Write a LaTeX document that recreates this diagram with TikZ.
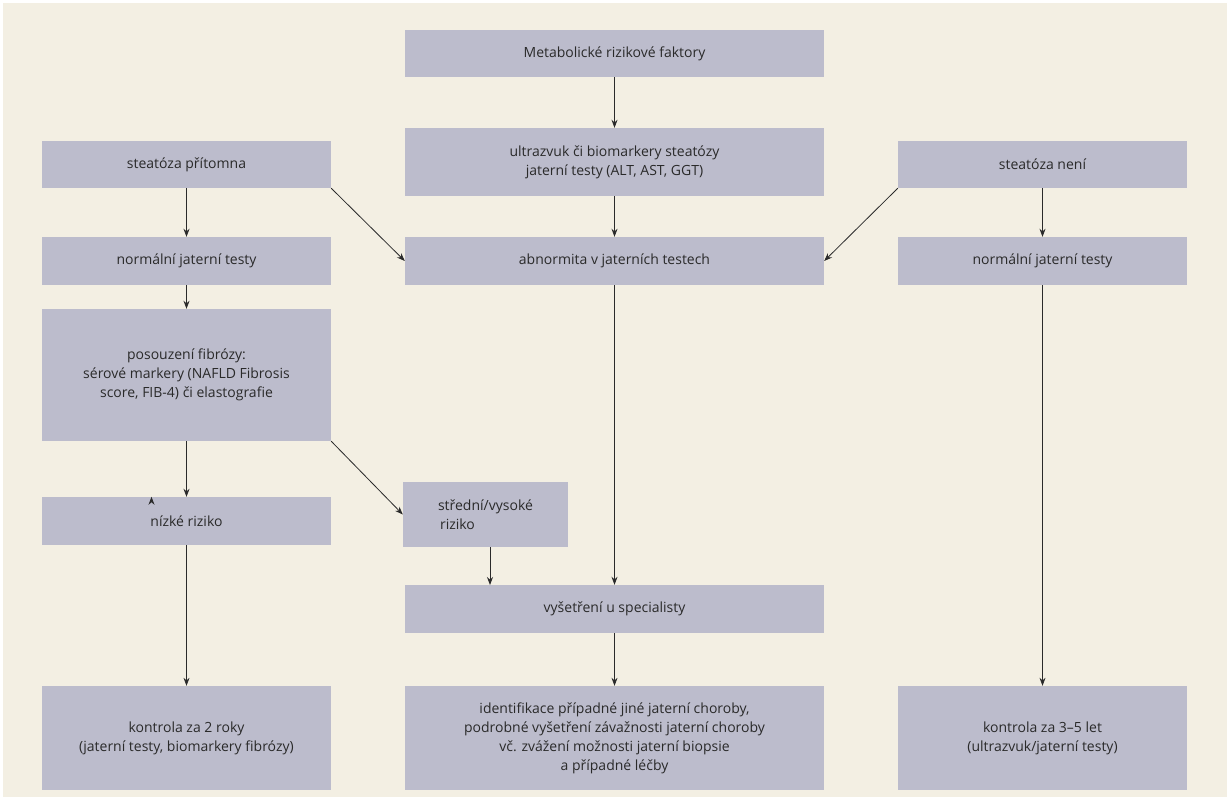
\documentclass[tikz,border=0pt]{standalone}
\usepackage{fontspec}
\setmainfont{Open Sans}
\usetikzlibrary{arrows.meta}
\definecolor{bg}{HTML}{F3EFE3}
\definecolor{bx}{HTML}{BCBCCC}
\definecolor{tx}{HTML}{2A2A2A}
\begin{document}
\begin{tikzpicture}[x=1pt,y=-1pt,
  box/.style={fill=bx,draw=none,inner sep=0pt,align=center,text=tx,font=\fontsize{14}{19}\selectfont},
  ar/.style={draw=tx,line width=0.8pt,-{Stealth[length=8pt,width=6pt]}}]
\useasboundingbox (0,0) rectangle (1230,800);
\fill[white] (0,0) rectangle (1230,800);
\fill[bg] (3,3) rectangle (1227,797);
\newcommand{\bxx}[6]{\node[box,minimum width={#4-#2},minimum height={#5-#3}] (#1) at ({(#2+#4)/2},{(#3+#5)/2}) {#6};}
\bxx{met}{405}{30}{824}{77}{Metabolické rizikové faktory}
\bxx{ult}{405}{128}{824}{196}{ultrazvuk či biomarkery steatózy\\jaterní testy (ALT, AST, GGT)}
\bxx{sp}{42}{141}{331}{188}{steatóza přítomna}
\bxx{sn}{898}{141}{1187}{188}{steatóza není}
\bxx{ab}{405}{237}{824}{285}{abnormita v jaterních testech}
\bxx{nl}{42}{237}{331}{285}{normální jaterní testy}
\bxx{nr}{898}{237}{1187}{285}{normální jaterní testy}
\bxx{po}{42}{309}{331}{441}{posouzení fibrózy:\\sérové markery (NAFLD Fibrosis\\score, FIB-4) či elastografie}
\bxx{ni}{42}{497}{331}{545}{nízké riziko}
\bxx{st}{403}{482}{568}{547}{střední/vysoké\\riziko\hspace*{4em}}
\bxx{vy}{405}{585}{824}{633}{vyšetření u specialisty}
\bxx{id}{405}{686}{824}{790}{identifikace případné jiné jaterní choroby,\\podrobné vyšetření závažnosti jaterní choroby\\vč. zvážení možnosti jaterní biopsie\\a případné léčby}
\bxx{k2}{42}{686}{331}{790}{kontrola za 2 roky\\(jaterní testy, biomarkery fibrózy)}
\bxx{k3}{898}{686}{1187}{790}{kontrola za 3–5 let\\(ultrazvuk/jaterní testy)}
\draw[ar] (met) -- (ult);
\draw[ar] (ult) -- (ab);
\draw[ar] (ab) -- (vy);
\draw[ar] (vy) -- (id);
\draw[ar] (sp) -- (nl);
\draw[ar] (nl) -- (po);
\draw[ar] (po.south) ++(-35,0) coordinate (a1) (ni.north) ++(-35,0) coordinate (a2);
\draw[ar] (po.south) -- (ni.north);
\draw[ar] (ni) -- (k2);
\draw[ar] (sn) -- (nr);
\draw[ar] (nr) -- (k3);
\draw[ar] (sp.south east) -- (ab.west);
\draw[ar] (sn.south west) -- (ab.east);
\draw[ar] (po.south east) -- (st.west);
\coordinate (s1) at (490,547);
\coordinate (s2) at (490,585);
\draw[ar] (s1) -- (s2);
\end{tikzpicture}
\end{document}
